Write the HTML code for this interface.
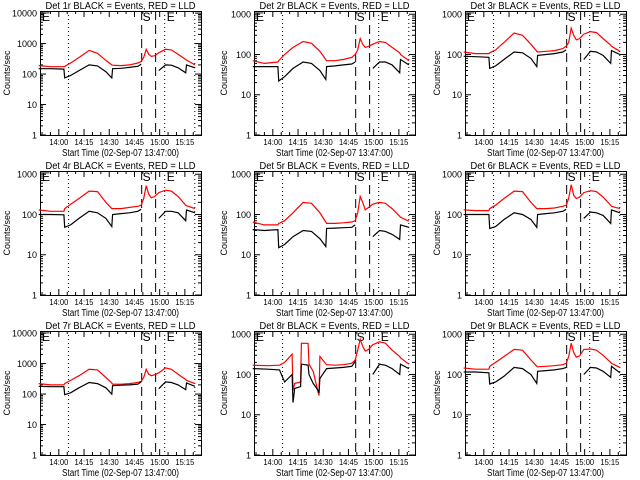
<!DOCTYPE html>
<html><head><meta charset="utf-8">
<style>
html,body{margin:0;padding:0;background:#fff;}
svg{display:block;font-family:"Liberation Sans",sans-serif;}
</style></head>
<body>
<svg id="chart" width="640" height="480" viewBox="0 0 640 480" xmlns="http://www.w3.org/2000/svg">
<rect x="0" y="0" width="640" height="480" fill="#fff"/>
</svg>
<script>
// time in minutes after 13:47:00
const T  = [1, 8, 16, 16.5, 20, 25, 31, 36, 41, 44.5, 45, 50, 55, 60, 62, 63.5, 65, 66.5, 68, 70, 72.5, 76.5, 80, 84, 88.5, 89, 94];
const T8 = [1, 10, 17, 20, 24.5, 25, 26, 29.5, 30, 34, 34.5, 37, 40, 40.5, 41, 45, 50, 55, 60, 62, 63.5, 65, 66.5, 68, 70, 72.5, 76.5, 80, 84, 88.5, 89, 94];
const N = null;
const red1   = [190,175,175,178,230,350,600,480,280,200,195,190,200,230,260,350,650,450,380,400,500,650,620,450,300,290,200];
const black1 = [150,150,145,75,90,130,200,185,120,75,150,155,165,180,210,N,N,N,N,N,130,200,195,160,110,200,160];
const red2   = [70,60,65,70,100,150,210,190,120,75,70,70,75,85,100,130,250,180,150,160,180,210,200,150,110,100,70];
const black2 = [50,50,50,22,28,45,65,60,40,24,50,52,55,58,65,N,N,N,N,N,45,65,65,55,35,75,55];
const red3   = [115,105,105,110,130,200,340,300,180,120,115,120,125,140,160,200,450,300,230,250,320,370,350,250,170,160,120];
const black3 = [90,88,85,45,52,75,115,110,80,50,95,100,105,115,130,N,N,N,N,N,75,120,115,95,60,125,100];
const red4   = [130,120,120,140,180,250,380,370,200,140,140,140,150,160,170,250,520,320,260,280,350,400,380,280,170,165,140];
const black4 = [100,100,98,48,55,80,120,110,80,50,100,105,110,120,135,N,N,N,N,N,80,120,120,110,70,130,110];
const red5   = [65,55,55,60,70,110,200,190,110,65,60,60,62,65,70,110,280,200,130,150,180,200,190,140,90,85,68];
const black5 = [42,40,42,15,18,28,40,38,25,16,45,46,47,48,55,N,N,N,N,N,28,40,38,32,24,55,48];
const red6   = [130,125,125,140,170,250,380,370,200,140,140,140,145,160,170,250,550,300,250,270,350,390,370,270,170,160,140];
const black6 = [100,100,100,45,50,75,110,100,75,48,100,105,110,120,135,N,N,N,N,N,80,115,110,95,60,130,110];
const red7   = [220,200,200,220,280,400,650,620,350,230,210,210,220,240,260,350,650,450,400,430,500,720,650,450,300,280,220];
const black7 = [180,175,175,95,110,160,240,220,160,100,190,195,200,210,250,N,N,N,N,N,150,250,240,200,140,230,180];
const red8   = [170,165,170,200,320,40,60,65,600,590,180,120,35,30,280,175,170,175,190,230,400,750,500,380,420,550,650,600,400,280,260,180];
const black8 = [140,135,130,65,100,20,45,50,180,170,100,60,40,35,80,140,145,150,160,210,N,N,N,N,N,100,180,170,140,100,180,140];
const red9   = [145,135,135,160,200,280,420,400,230,160,155,160,165,175,190,280,600,350,270,290,420,430,400,300,200,190,150];
const black9 = [115,115,110,58,65,90,150,140,100,60,120,125,130,140,150,N,N,N,N,N,100,150,145,120,85,160,110];
const detNames = ['1r','2r','3r','4r','5r','6r','7r','8r','9r'];
const topExp = [4.07,3.08,3.08,3.08,3.08,3.08,4.07,3.08,3.08];
const xTickLabels = ['14:00','14:15','14:30','14:45','15:00','15:15'];
const xTickMins = [13,28,43,58,73,88];
const dashedMins = [62.3,70.6];
const dottedMins = [18.8,76,93.9];

const panels = [
  {t:T,red:red1,black:black1},{t:T,red:red2,black:black2},{t:T,red:red3,black:black3},
  {t:T,red:red4,black:black4},{t:T,red:red5,black:black5},{t:T,red:red6,black:black6},
  {t:T,red:red7,black:black7},{t:T8,red:red8,black:black8},{t:T,red:red9,black:black9}
];
const svg = document.getElementById('chart');
const NS = 'http://www.w3.org/2000/svg';
function mk(tag, attrs, parent){
  const e = document.createElementNS(NS, tag);
  for (const k in attrs) e.setAttribute(k, attrs[k]);
  parent.appendChild(e);
  return e;
}
const lefts=[40,254,465], tops=[11,171,331], W=161, H=124, TMIN=1.8, TMAX=97.6;

panels.forEach((p, i) => {
  const col=i%3, row=Math.floor(i/3);
  const L=lefts[col], TP=tops[row], B=TP+H, R=L+W, te=topExp[i];
  const xS = t => L + (t-TMIN)/(TMAX-TMIN)*W;
  const yS = v => B - Math.log10(v)/te*H;
  const g = mk('g', {}, svg);
  
  

  const title = mk('text', {x:(L+R)/2, y:TP-2, 'text-anchor':'middle', 'font-size':'10', textLength:'150', lengthAdjust:'spacingAndGlyphs'}, g);
  title.textContent = 'Det ' + detNames[i] + ' BLACK = Events, RED = LLD';
  
  

  const box = mk('rect', {x:L+0.5, y:TP+0.5, width:W, height:H, fill:'none', stroke:'#000', 'stroke-width':'1'}, g);
  
  

  for (let d=0; d<=Math.floor(te); d++){
    const y = yS(Math.pow(10,d));
    mk('line', {x1:L, x2:L+6, y1:y, y2:y, stroke:'#000'}, g);
    mk('line', {x1:R, x2:R-6, y1:y, y2:y, stroke:'#000'}, g);
    const lab = mk('text', {x:L-3, y:y+3.5, 'text-anchor':'end', 'font-size':'9'}, g);
    lab.textContent = String(Math.pow(10,d));
    
    
    for (let m=2; m<=9; m++){
      const v = m*Math.pow(10,d);
      if (Math.log10(v) > te) break;
      const ym = yS(v);
      mk('line', {x1:L, x2:L+3, y1:ym, y2:ym, stroke:'#000'}, g);
      mk('line', {x1:R, x2:R-3, y1:ym, y2:ym, stroke:'#000'}, g);
    }
  }
  for (let t=3; t<TMAX; t+=5){
    const x = xS(t);
    const major = xTickMins.indexOf(t) >= 0;
    const len = major ? 6 : 3;
    mk('line', {x1:x, x2:x, y1:B, y2:B-len, stroke:'#000'}, g);
    mk('line', {x1:x, x2:x, y1:TP, y2:TP+len, stroke:'#000'}, g);
  }
  xTickLabels.forEach((s, k) => {
    const lab = mk('text', {x:xS(xTickMins[k]), y:B+10, 'text-anchor':'middle', 'font-size':'8.5', textLength:'19', lengthAdjust:'spacingAndGlyphs'}, g);
    lab.textContent = s;
    
    
  });
  const xt = mk('text', {x:(L+R)/2, y:B+21, 'text-anchor':'middle', 'font-size':'10', textLength:'117', lengthAdjust:'spacingAndGlyphs'}, g);
  xt.textContent = 'Start Time (02-Sep-07 13:47:00)';
  
  
  const yx = [10,227,440][col], yc = TP + H/2;
  const yt = mk('text', {x:yx, y:yc, 'text-anchor':'middle', 'font-size':'9', transform:'rotate(-90 '+yx+' '+yc+')'}, g);
  yt.textContent = 'Counts/sec';
  
  

  dashedMins.forEach(t => {
    const l = mk('line', {x1:xS(t), x2:xS(t), y1:TP, y2:B, stroke:'#000', 'stroke-dasharray':'9,5'}, g);
    
    
  });
  dottedMins.forEach(t => {
    const l = mk('line', {x1:xS(t), x2:xS(t), y1:TP, y2:B, stroke:'#000', 'stroke-dasharray':'1,3'}, g);
    
    
  });
  const mkLab = (txt, x, nm) => {
    const e = mk('text', {x:x, y:TP+10, 'font-size':'12'}, g);
    e.textContent = txt;
    
    
  };
  mkLab('E', L+2, 'start-marker-label');
  mkLab('S', xS(dashedMins[0])+1, 'saa-marker-label');
  mkLab('E', xS(dottedMins[1])+2, 'end-marker-label');

  const drawSeries = (vals, color, nm) => {
    let seg = [];
    const segs = [];
    vals.forEach((v, k) => {
      if (v === null) { if (seg.length) segs.push(seg); seg = []; }
      else seg.push(xS(p.t[k]).toFixed(1) + ',' + yS(v).toFixed(1));
    });
    if (seg.length) segs.push(seg);
    segs.forEach(s => {
      const pl = mk('polyline', {points:s.join(' '), fill:'none', stroke:color, 'stroke-width':'1.2'}, g);
      
      
    });
  };
  drawSeries(p.red, '#ff0000', 'lld-series-red');
  drawSeries(p.black, '#000000', 'events-series-black');
});
</script>
</body></html>
